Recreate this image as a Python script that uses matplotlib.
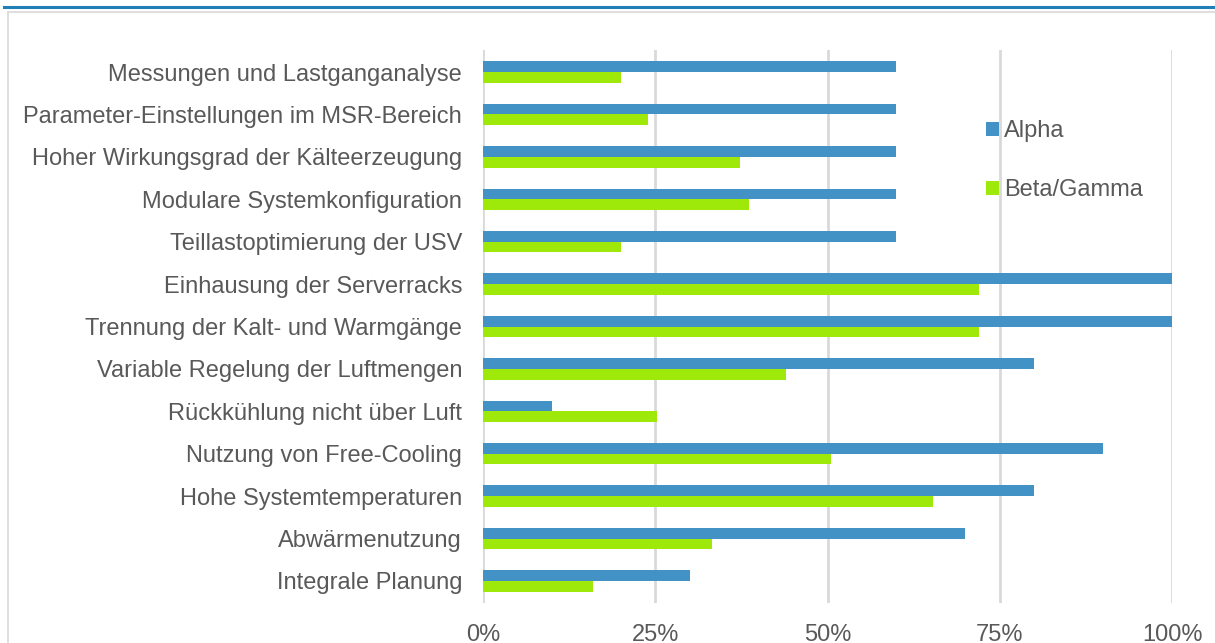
import matplotlib
matplotlib.use("Agg")
import matplotlib.pyplot as plt
from matplotlib.patches import Rectangle
from matplotlib.lines import Line2D
import numpy as np

categories = [
    "Messungen und Lastganganalyse",
    "Parameter-Einstellungen im MSR-Bereich",
    "Hoher Wirkungsgrad der Kälteerzeugung",
    "Modulare Systemkonfiguration",
    "Teillastoptimierung der USV",
    "Einhausung der Serverracks",
    "Trennung der Kalt- und Warmgänge",
    "Variable Regelung der Luftmengen",
    "Rückkühlung nicht über Luft",
    "Nutzung von Free-Cooling",
    "Hohe Systemtemperaturen",
    "Abwärmenutzung",
    "Integrale Planung",
]
alpha = [60, 60, 60, 60, 60, 100, 100, 80, 10, 90, 80, 70, 30]
beta_gamma = [20, 24, 37.3, 38.6, 20, 72, 72, 44, 25.3, 50.5, 65.3, 33.2, 16]
series_names = ["Alpha", "Beta/Gamma"]
xticks = [0, 25, 50, 75, 100]
xtick_labels = ["0%", "25%", "50%", "75%", "100%"]

blue = "#4392c6"
green = "#9ee80a"
text_color = "#595959"
grid_color = "#d9d9d9"

plt.rcParams["font.family"] = ["Liberation Sans", "DejaVu Sans"]

W, H = 1215, 643
fig = plt.figure(figsize=(W / 100, H / 100), dpi=100)

# frame decorations
fig.add_artist(Line2D([4 / W, 1], [1 - 7 / H, 1 - 7 / H], transform=fig.transFigure,
                      color="#1f7fb6", lw=2.2))
fig.add_artist(Rectangle((8 / W, -0.1), 1.2, 1 - 12 / H + 0.1, transform=fig.transFigure,
                         fill=False, edgecolor="#d9d9d9", lw=1.2))

ax = fig.add_axes([483 / W, (H - 603) / H, (1172 - 483) / W, (603 - 50) / H])

n = len(categories)
y = np.arange(n)
h = 0.253
ax.barh(y - h / 2, alpha, height=h, color=blue, label=series_names[0], zorder=3)
ax.barh(y + h / 2, beta_gamma, height=h, color=green, label=series_names[1], zorder=3)

ax.set_ylim(n - 0.48, -0.52)
ax.set_xlim(0, 100)
ax.set_yticks(y)
ax.set_yticklabels(categories, fontsize=17, color=text_color)
ax.set_xticks(xticks)
ax.set_xticklabels(xtick_labels, fontsize=17, color=text_color)
ax.tick_params(axis="both", length=0)
ax.tick_params(axis="x", pad=15)
ax.tick_params(axis="y", pad=15)
for s in ax.spines.values():
    s.set_visible(False)
ax.xaxis.grid(True, color=grid_color, lw=2, zorder=0)
ax.set_axisbelow(True)

leg = ax.legend(loc="upper left", bbox_to_anchor=((986 - 483) / (1172 - 483), 1 - (120.5 - 50) / (603 - 50)),
                frameon=False, fontsize=17, handlelength=0.55, handleheight=0.55,
                handletextpad=0.2, labelspacing=1.56, borderaxespad=0, borderpad=0)
for t in leg.get_texts():
    t.set_color(text_color)

fig.savefig("out.png", dpi=100)
